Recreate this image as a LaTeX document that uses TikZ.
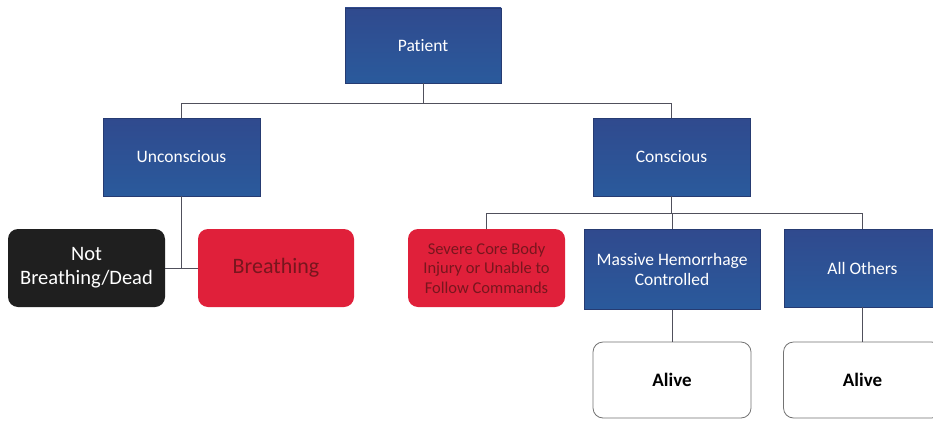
\documentclass[tikz,border=0pt]{standalone}
\usepackage{fontspec}
\setmainfont{Carlito}[Ligatures = NoCommon]
\usetikzlibrary{positioning}

\definecolor{boxtop}{RGB}{48,74,142}
\definecolor{boxbot}{RGB}{42,90,156}
\definecolor{alertred}{RGB}{224,32,58}
\definecolor{alerttext}{RGB}{120,22,30}
\definecolor{linegray}{RGB}{80,80,92}

\begin{document}
\begin{tikzpicture}[x = 1pt, y = -1pt,
	bluebox/.style = {draw = boxtop!80!black, line width = 0.4pt, top color = boxtop, bottom color = boxbot, text = white, minimum width = 157pt, minimum height = 78pt, inner sep = 0pt, align = center, font = \fontsize{17.5}{20.5}\selectfont},
	deadbox/.style = {fill = black!88, rounded corners = 10pt, text = white, minimum width = 157pt, minimum height = 78pt, inner sep = 0pt, align = center, font = \fontsize{20.5}{24}\selectfont},
	redbox/.style = {fill = alertred, rounded corners = 10pt, text = alerttext, minimum width = 157pt, minimum height = 78pt, inner sep = 0pt, align = center},
	alivebox/.style = {draw = black!55, line width = 0.8pt, fill = white, rounded corners = 10pt, minimum width = 158pt, minimum height = 76pt, inner sep = 0pt, font = \fontsize{19}{22}\selectfont\bfseries},
	link/.style = {draw = linegray, line width = 0.9pt}]
	\useasboundingbox (0, 0) rectangle (933, 420);
	\clip (0, 0) rectangle (933, 420);
	\fill [white] (0, 0) rectangle (933, 420);

	% top level
	\node [bluebox, minimum width = 156pt, minimum height = 75pt] (patient) at (423, 45.5) {Patient};
	\node [bluebox] (unconscious) at (181.5, 157) {Unconscious};
	\node [bluebox] (conscious) at (671.5, 157) {Conscious};

	% unconscious branch
	\node [deadbox] (notbreathing) at (86.5, 268) {Not\\Breathing/Dead};
	\node [redbox, minimum width = 156pt, font = \fontsize{22}{26}\selectfont] (breathing) at (276, 268) {Breathing};

	% conscious branch
	\node [redbox, font = \fontsize{16.5}{19.5}\selectfont] (severe) at (486.5, 268) {Severe Core Body\\Injury or Unable to\\Follow Commands};
	\node [bluebox, minimum width = 176pt, minimum height = 80pt] (hemorrhage) at (672, 269.5) {Massive Hemorrhage\\Controlled};
	\node [bluebox] (others) at (862.5, 268) {All Others};
	\node [alivebox] (alive1) at (672, 380) {Alive};
	\node [alivebox] (alive2) at (862.5, 380) {Alive};

	% connectors
	\draw [link] (patient.south) -- ++(0, 20) -| (unconscious.north);
	\draw [link] (patient.south) -- ++(0, 20) -| (conscious.north);
	\draw [link] (unconscious.south) -- (unconscious.south |- notbreathing.east);
	\draw [link] (notbreathing.east) -- (breathing.west);
	\draw [link] (conscious.south) -- ++(0, 17) -| (severe.north);
	\draw [link] (conscious.south) -- ++(0, 17) -| (hemorrhage.north);
	\draw [link] (conscious.south) -- ++(0, 17) -| (others.north);
	\draw [link] (hemorrhage.south) -- (alive1.north);
	\draw [link] (others.south) -- (alive2.north);
\end{tikzpicture}
\end{document}
